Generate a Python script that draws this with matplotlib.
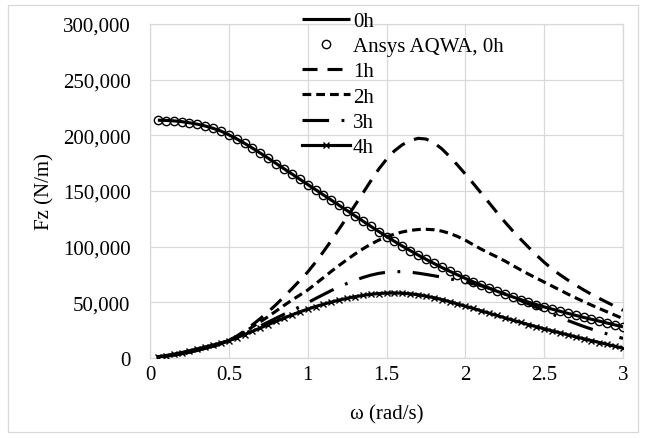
import numpy as np
import matplotlib
matplotlib.use("Agg")
import matplotlib.pyplot as plt
from matplotlib.patches import Rectangle

# ---------------- data (values in thousands of N/m) ----------------
omega = [0.05, 0.10, 0.15, 0.20, 0.25, 0.30, 0.35, 0.40, 0.45, 0.50,
         0.55, 0.60, 0.65, 0.70, 0.75, 0.80, 0.85, 0.90, 0.95, 1.00,
         1.05, 1.10, 1.15, 1.20, 1.25, 1.30, 1.35, 1.40, 1.45, 1.50,
         1.55, 1.60, 1.65, 1.70, 1.75, 1.80, 1.85, 1.90, 1.95, 2.00,
         2.05, 2.10, 2.15, 2.20, 2.25, 2.30, 2.35, 2.40, 2.45, 2.50,
         2.55, 2.60, 2.65, 2.70, 2.75, 2.80, 2.85, 2.90, 2.95, 3.00]

fz_0h = [213.6, 213.4, 213.0, 212.3, 211.3, 210.0, 208.4, 206.3, 203.8, 200.5,
         196.8, 192.8, 188.5, 184.0, 179.4, 174.7, 170.0, 165.3, 160.6, 155.9,
         151.2, 146.5, 141.8, 137.1, 132.4, 127.7, 123.0, 118.3, 113.7, 109.2,
         104.8, 100.6, 96.5, 92.5, 88.7, 85.0, 81.4, 78.0, 74.7, 71.5,
         68.4, 65.5, 62.7, 60.0, 57.4, 54.9, 52.5, 50.2, 48.0, 45.9,
         43.9, 42.0, 40.1, 38.3, 36.5, 34.8, 33.1, 31.4, 29.7, 28.0]

fz_aqwa = [213.5, 213.3, 212.9, 212.2, 211.2, 209.9, 208.3, 206.2, 203.7, 200.4,
           196.7, 192.7, 188.4, 183.9, 179.3, 174.6, 169.9, 165.2, 160.5, 155.8,
           151.1, 146.4, 141.7, 137.0, 132.3, 127.6, 122.9, 118.2, 113.6, 109.1,
           104.7, 100.5, 96.4, 92.4, 88.6, 84.9, 81.3, 77.9, 74.6, 71.4,
           68.3, 65.4, 62.6, 59.9, 57.3, 54.8, 52.4, 50.1, 47.9, 45.8,
           43.8, 41.9, 40.0, 38.2, 36.4, 34.7, 33.0, 31.3, 29.6, 27.9]

fz_1h = [0.8, 1.6, 2.6, 3.8, 5.2, 6.8, 8.6, 10.6, 12.9, 15.8,
         19.6, 24.4, 29.8, 35.5, 41.5, 48.0, 55.0, 62.2, 69.6, 77.2,
         86.0, 95.5, 105.5, 116.0, 126.5, 137.2, 148.0, 159.0, 169.5, 178.5,
         186.0, 191.5, 195.3, 197.3, 196.7, 193.4, 188.0, 181.0, 173.3, 165.2,
         156.8, 148.2, 139.5, 130.8, 122.3, 114.3, 106.8, 99.6, 92.6, 86.0,
         80.0, 74.8, 70.0, 65.5, 61.2, 57.2, 53.5, 49.9, 46.3, 42.8]

fz_2h = [0.8, 1.6, 2.6, 3.8, 5.2, 6.8, 8.6, 10.6, 12.9, 15.6,
         19.2, 23.4, 28.0, 32.6, 37.2, 42.2, 47.2, 52.0, 56.5, 61.0,
         66.6, 72.2, 77.8, 83.2, 88.4, 93.4, 98.0, 102.2, 105.8, 108.8,
         111.3, 113.2, 114.6, 115.4, 115.6, 115.2, 114.0, 112.0, 109.2, 105.8,
         101.8, 97.8, 94.2, 90.8, 87.2, 83.2, 79.2, 75.4, 71.8, 68.2,
         64.6, 61.0, 57.4, 54.0, 50.7, 47.5, 44.4, 41.4, 38.4, 35.4]

fz_3h = [0.8, 1.6, 2.6, 3.8, 5.2, 6.8, 8.6, 10.6, 12.9, 15.4,
         18.4, 21.8, 25.3, 28.8, 32.3, 35.8, 39.3, 42.6, 46.0, 49.6,
         53.4, 57.0, 60.6, 64.0, 67.0, 69.8, 72.3, 74.4, 76.0, 77.0,
         77.5, 77.6, 77.1, 76.2, 75.1, 73.9, 72.6, 71.2, 69.7, 68.2,
         66.6, 64.9, 62.8, 60.4, 57.6, 54.6, 51.6, 48.6, 45.6, 42.6,
         39.6, 36.6, 33.7, 31.0, 28.4, 26.0, 23.7, 21.6, 19.6, 17.6]

fz_4h = [1.2, 2.2, 3.4, 4.9, 6.5, 8.2, 9.9, 11.7, 13.6, 15.7,
         18.3, 21.1, 24.0, 27.0, 30.0, 33.0, 35.9, 38.7, 41.4, 43.9,
         46.2, 48.3, 50.2, 52.0, 53.6, 55.0, 56.2, 57.2, 57.9, 58.3,
         58.4, 58.2, 57.6, 56.8, 55.6, 54.2, 52.5, 50.6, 48.6, 46.5,
         44.5, 42.4, 40.3, 38.2, 36.1, 34.0, 32.0, 30.0, 28.1, 26.2,
         24.4, 22.6, 20.8, 19.0, 17.3, 15.6, 13.9, 12.2, 10.5, 8.8]

series_labels = ["0h", "Ansys AQWA, 0h", "1h", "2h", "3h", "4h"]
x_ticks = [0, 0.5, 1, 1.5, 2, 2.5, 3]
x_tick_labels = ["0", "0.5", "1", "1.5", "2", "2.5", "3"]
y_ticks = [0, 50000, 100000, 150000, 200000, 250000, 300000]
y_tick_labels = ["0", "50,000", "100,000", "150,000", "200,000", "250,000", "300,000"]
x_label = "ω (rad/s)"
y_label = "Fz (N/m)"

# ---------------- figure ----------------
W, H = 646, 439
fig = plt.figure(figsize=(W / 100, H / 100), dpi=100)
plt.rcParams['font.family'] = ['Liberation Serif', 'DejaVu Serif']
FS = 15

ax = fig.add_axes([150 / W, 1 - 359 / H, (623 - 150) / W, (359 - 25) / H])

x = np.array(omega)
k = 1000.0
lw = 2.25
ax.plot(x, np.array(fz_0h) * k, color="black", lw=lw, solid_capstyle="butt",
        label=series_labels[0], zorder=3)
ax.plot(x, np.array(fz_aqwa) * k, linestyle="none", marker="o", ms=6.0,
        mfc="none", mec="black", mew=1.0, label=series_labels[1], zorder=4)
ax.plot(x, np.array(fz_1h) * k, color="black", lw=lw, linestyle=(0, (4.8, 3.2)),
        dash_capstyle="butt", label=series_labels[2], zorder=3)
ax.plot(x, np.array(fz_2h) * k, color="black", lw=lw, linestyle=(0, (2.8, 1.6)),
        dash_capstyle="butt", label=series_labels[3], zorder=3)
ax.plot(x, np.array(fz_3h) * k, color="black", lw=lw,
        linestyle=(0, (8.5, 4.0, 0.9, 4.0)), dash_capstyle="butt",
        label=series_labels[4], zorder=3)
ax.plot(x, np.array(fz_4h) * k, color="black", lw=lw, marker="x", ms=5,
        mew=1.0, label=series_labels[5], zorder=3)

ax.set_xlim(0, 3)
ax.set_ylim(0, 300000)
ax.set_xticks(x_ticks)
ax.set_xticklabels(x_tick_labels, fontsize=FS)
ax.set_yticks(y_ticks)
ax.set_yticklabels(y_tick_labels, fontsize=FS)
ax.tick_params(axis="both", length=0)
ax.tick_params(axis="y", pad=14)
ax.tick_params(axis="x", pad=5)
grid_c = "#D9D9D9"
ax.grid(True, color=grid_c, lw=0.9, zorder=0)
ax.set_axisbelow(True)
for s in ax.spines.values():
    s.set_color(grid_c)
    s.set_linewidth(0.9)

fig.text(386.5 / W, 1 - 415 / H, x_label, ha="center", va="center", fontsize=FS)
fig.text(45 / W, 1 - 192 / H, y_label, ha="center", va="center", fontsize=FS,
         rotation=90)

leg = ax.legend(loc="upper left", bbox_to_anchor=(302 / W, 1 - 12.5 / H),
                bbox_transform=fig.transFigure, frameon=False, fontsize=FS,
                handlelength=2.3, handletextpad=0.15, labelspacing=0.27,
                borderpad=0, borderaxespad=0, numpoints=1)

fig.patches.append(Rectangle((8 / W, 1 - 433 / H), 630 / W, 427 / H,
                             transform=fig.transFigure, fill=False,
                             edgecolor=grid_c, lw=0.9))

fig.savefig("out.png", dpi=100)
